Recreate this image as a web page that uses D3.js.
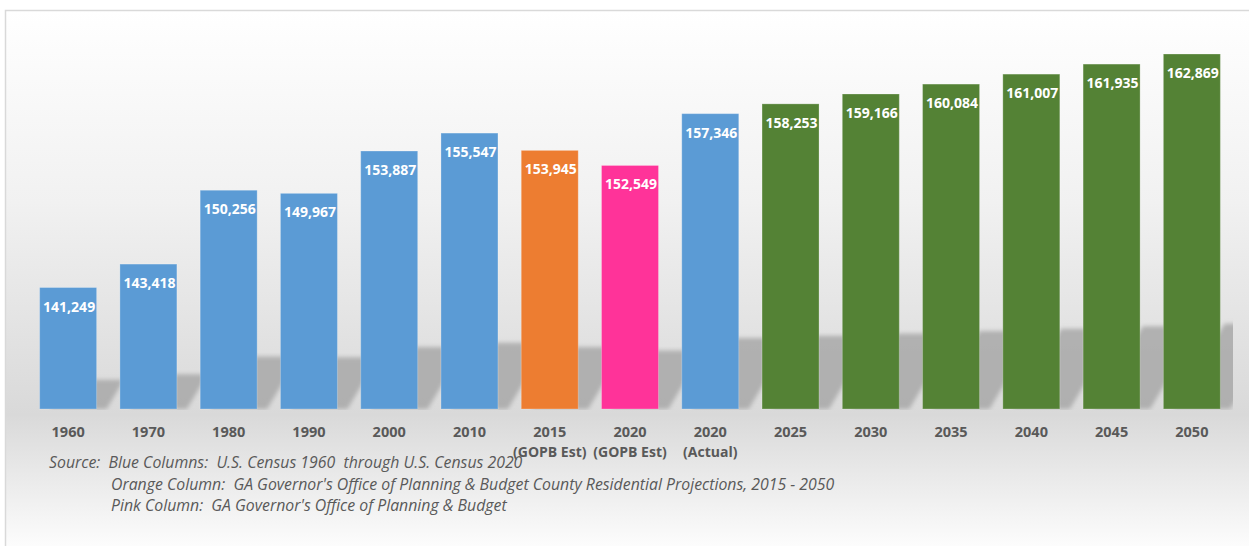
<!DOCTYPE html>
<html>
<head>
<meta charset="utf-8">
<script src="https://cdn.jsdelivr.net/npm/d3@7"></script>
<style>
    html, body { margin: 0; padding: 0; background: #fff; }
    svg { display: block; font-family: 'Open Sans', sans-serif; }
</style>
</head>
<body>
<div id="chart"></div>
<script>
const years = ['1960', '1970', '1980', '1990', '2000', '2010', '2015', '2020', '2020', '2025', '2030', '2035', '2040', '2045', '2050'];
const subLabels = ['', '', '', '', '', '', '(GOPB Est)', '(GOPB Est)', '(Actual)', '', '', '', '', '', ''];
const population = [141249, 143418, 150256, 149967, 153887, 155547, 153945, 152549, 157346, 158253, 159166, 160084, 161007, 161935, 162869];
const groups = ['census', 'census', 'census', 'census', 'census', 'census', 'orange', 'pink', 'census', 'proj', 'proj', 'proj', 'proj', 'proj', 'proj'];
const yDomain = [130000, 165000];
const sourceLines = [
    'Source:  Blue Columns:  U.S. Census 1960  through U.S. Census 2020',
    'Orange Column:  GA Governor\'s Office of Planning & Budget County Residential Projections, 2015 - 2050',
    'Pink Column:  GA Governor\'s Office of Planning & Budget'
];

const colors = {census: '#5b9bd5', orange: '#ed7d31', pink: '#ff3399', proj: '#548235'};

const width = 1249, height = 546;
const plot = {left: 28, right: 1232, top: 31, bottom: 409};

const svg = d3.select('#chart').append('svg')
    .attr('width', width)
    .attr('height', height);

const defs = svg.append('defs');

// chart area fill: white -> grey near the floor -> white
const bg = defs.append('linearGradient')
    .attr('id', 'bg')
    .attr('x1', 0).attr('y1', 0).attr('x2', 0).attr('y2', 1);
bg.append('stop').attr('offset', '0%').attr('stop-color', '#ffffff');
bg.append('stop').attr('offset', '35%').attr('stop-color', '#f1f1f1');
bg.append('stop').attr('offset', '74%').attr('stop-color', '#d9d9d9');
bg.append('stop').attr('offset', '100%').attr('stop-color', '#ffffff');

defs.append('filter')
    .attr('id', 'blur')
    .attr('x', '-20%').attr('y', '-20%').attr('width', '140%').attr('height', '140%')
    .append('feGaussianBlur')
    .attr('stdDeviation', 2);

defs.append('clipPath')
    .attr('id', 'plotClip')
    .append('rect')
    .attr('x', plot.left)
    .attr('y', 0)
    .attr('width', plot.right - plot.left + 1)
    .attr('height', plot.bottom + 1);

svg.append('rect')
    .attr('x', 5.5)
    .attr('y', 10.5)
    .attr('width', width + 10)
    .attr('height', height)
    .attr('fill', 'url(#bg)')
    .attr('stroke', '#d9d9d9')
    .attr('stroke-width', 1.5);

const x = d3.scaleBand()
    .domain(d3.range(years.length))
    .range([plot.left, plot.right])
    .paddingInner(0.29)
    .paddingOuter(0.145);

const y = d3.scaleLinear()
    .domain(yDomain)
    .range([plot.bottom, plot.top]);

// perspective shadows behind the columns, leaning up and to the right
const shadowG = svg.append('g')
    .attr('clip-path', 'url(#plotClip)')
    .append('g')
    .attr('filter', 'url(#blur)');

shadowG.selectAll('path')
    .data(population)
    .enter().append('path')
    .attr('fill', '#a8a8a8')
    .attr('opacity', 0.85)
    .attr('d', (d, i) => {
        const h = (y(yDomain[0]) - y(d)) * 0.24;
        const x0 = x(i) + 10, x1 = x(i) + x.bandwidth() + 10;
        const dx = h * 0.6;
        const b = y(yDomain[0]);
        return `M${x0},${b}L${x1},${b}L${x1 + dx},${b - h}L${x0 + dx},${b - h}Z`;
    });

// columns
svg.append('g')
    .selectAll('rect')
    .data(population)
    .enter().append('rect')
    .attr('x', (d, i) => x(i))
    .attr('y', d => y(d))
    .attr('width', x.bandwidth())
    .attr('height', d => y(yDomain[0]) - y(d))
    .attr('fill', (d, i) => colors[groups[i]])
    .attr('stroke', 'rgba(255,255,255,0.25)')
    .attr('stroke-width', 1);

// value labels inside the top of each column
svg.append('g')
    .selectAll('text')
    .data(population)
    .enter().append('text')
    .attr('x', (d, i) => x(i) + x.bandwidth() / 2 + 1)
    .attr('y', d => y(d) + 24)
    .attr('text-anchor', 'middle')
    .attr('fill', '#ffffff')
    .style('font-size', '14px')
    .style('font-weight', 'bold')
    .text(d => d3.format(',')(d));

// category labels
const xAxis = svg.append('g')
    .attr('transform', `translate(0,${plot.bottom})`)
    .call(d3.axisBottom(x).tickSize(0).tickFormat(i => years[i]));
xAxis.select('.domain').remove();
xAxis.selectAll('text')
    .attr('y', 28)
    .attr('dy', 0)
    .attr('fill', '#595959')
    .style('font-family', "'Open Sans', sans-serif")
    .style('font-size', '14.5px')
    .style('font-weight', 'bold');

xAxis.selectAll('.tick')
    .append('text')
    .attr('y', 47.5)
    .attr('fill', '#595959')
    .attr('text-anchor', 'middle')
    .style('font-family', "'Open Sans', sans-serif")
    .style('font-size', '14px')
    .style('font-weight', 'bold')
    .text(i => subLabels[i]);

// source note
const note = svg.append('g')
    .attr('fill', '#595959')
    .style('font-style', 'italic');

const noteX = [49, 111, 111];
const noteY = [468, 490, 511];
note.selectAll('text')
    .data(sourceLines)
    .enter().append('text')
    .attr('xml:space', 'preserve')
    .style('white-space', 'pre')
    .attr('x', (d, i) => noteX[i])
    .attr('y', (d, i) => noteY[i])
    .style('font-size', '14px')
    .text(d => d);

// narrow the note font so the long line spans like the original
const longLine = note.selectAll('text').nodes()[1];
const fit = 724 / longLine.getComputedTextLength();
note.selectAll('text').style('font-size', (14 * fit).toFixed(2) + 'px');
</script>
</body>
</html>
